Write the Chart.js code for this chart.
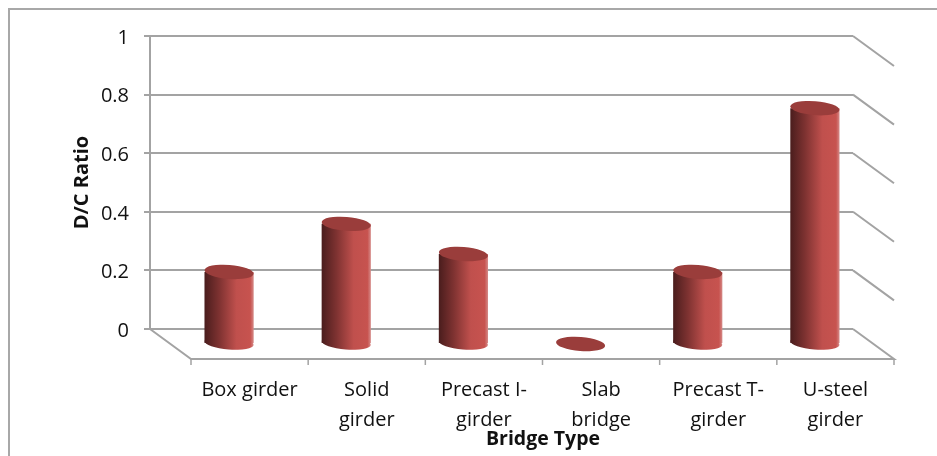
<!DOCTYPE html>
<html>
<head>
<meta charset="utf-8">
<style>
  html, body { margin: 0; padding: 0; background: #fff; overflow: hidden; }
  canvas { display: block; }
</style>
<script src="https://cdn.jsdelivr.net/npm/chart.js@4/dist/chart.umd.min.js"></script>
</head>
<body>
<canvas id="chart" width="937" height="456"></canvas>
<script>
var bridgeTypes = ['Box girder', ['Solid', 'girder'], ['Precast I-', 'girder'], ['Slab', 'bridge'], ['Precast T-', 'girder'], ['U-steel', 'girder']];
var dcRatio = [0.246, 0.41, 0.307, 0, 0.246, 0.805];
var yTicks = [0, 0.2, 0.4, 0.6, 0.8, 1];
var yTitle = 'D/C Ratio';
var xTitle = 'Bridge Type';

var FONT = '"Open Sans", sans-serif';
var GRID = '#a3a3a3';
var DEPTH_X = 41, DEPTH_Y = 30; // fake 3d depth of the floor
var BAR_SHARE = 0.42;

function barGradient(ctx, cx, half) {
    var g = ctx.createLinearGradient(cx - half, 0, cx + half, 0);
    g.addColorStop(0, '#4a1d1d');
    g.addColorStop(0.3, '#7e3231');
    g.addColorStop(0.65, '#c0504d');
    g.addColorStop(0.93, '#c7534f');
    g.addColorStop(1, '#d58a88');
    return g;
}

function ellipse(ctx, x, y, rx, ry, fill) {
    ctx.beginPath();
    ctx.ellipse(x, y, rx, ry, 4.5 * Math.PI / 180, 0, Math.PI * 2);
    ctx.fillStyle = fill;
    ctx.fill();
}

// floor, side lines and the frame round the chart
var walls = {
    id: 'walls',
    beforeDatasetsDraw: function (chart) {
        var ctx = chart.ctx, a = chart.chartArea, y = chart.scales.y, x = chart.scales.x;
        ctx.save();
        ctx.strokeStyle = '#a8a8a8';
        ctx.lineWidth = 2;
        ctx.beginPath();
        ctx.moveTo(9, 456);
        ctx.lineTo(9, 9);
        ctx.lineTo(937, 9);
        ctx.stroke();

        ctx.strokeStyle = GRID;
        ctx.beginPath();
        yTicks.forEach(function (t) {
            if (t === 0) return;
            ctx.moveTo(a.right, y.getPixelForValue(t));
            ctx.lineTo(a.right + DEPTH_X, y.getPixelForValue(t) + DEPTH_Y);
        });
        var fy = y.getPixelForValue(0);
        ctx.moveTo(a.left, fy);
        ctx.lineTo(a.left + DEPTH_X, fy + DEPTH_Y);
        ctx.lineTo(a.right + DEPTH_X, fy + DEPTH_Y);
        ctx.lineTo(a.right, fy);
        ctx.stroke();

        ctx.lineWidth = 1.5;
        ctx.beginPath();
        for (var i = 0; i <= bridgeTypes.length; i++) {
            var tx = a.left + DEPTH_X + i * x.width / bridgeTypes.length;
            ctx.moveTo(tx, fy + DEPTH_Y);
            ctx.lineTo(tx, fy + DEPTH_Y + 6);
        }
        ctx.stroke();
        ctx.restore();

        // bars stand half way into the floor
        ctx.save();
        ctx.translate(DEPTH_X / 2, DEPTH_Y / 2);
        chart.getDatasetMeta(0).data.forEach(function (bar) {
            if (bar.base - bar.y < 1) return;
            ellipse(ctx, bar.x, bar.base, bar.width / 2, 6.5, barGradient(ctx, bar.x, bar.width / 2));
        });
    },
    afterDatasetsDraw: function (chart) {
        var ctx = chart.ctx;
        chart.getDatasetMeta(0).data.forEach(function (bar) {
            ellipse(ctx, bar.x, bar.y, bar.width / 2, 7, '#9a3d3b');
        });
        ctx.restore();
    },
    afterDraw: function (chart) {
        var ctx = chart.ctx;
        ctx.save();
        ctx.font = 'bold 19.5px ' + FONT;
        ctx.fillStyle = '#111';
        ctx.textAlign = 'center';
        ctx.textBaseline = 'middle';
        ctx.fillText(xTitle, 543, 439);
        ctx.restore();
    }
};

var chart = new Chart(document.getElementById('chart').getContext('2d'), {
    type: 'bar',
    data: {
        labels: bridgeTypes,
        datasets: [{
            data: dcRatio,
            clip: false,
            backgroundColor: function (c) {
                var x = c.chart.scales.x;
                if (!x || !c.chart.chartArea) return '#c0504d';
                return barGradient(c.chart.ctx, x.getPixelForValue(c.dataIndex), x.width / bridgeTypes.length * BAR_SHARE / 2);
            }
        }]
    },
    plugins: [walls],
    options: {
        responsive: false,
        animation: false,
        events: [],
        layout: { padding: { left: 0, right: 84, top: 36, bottom: 0 } },
        plugins: { legend: { display: false }, tooltip: { enabled: false } },
        datasets: { bar: { categoryPercentage: 1, barPercentage: BAR_SHARE } },
        scales: {
            x: {
                afterFit: function (s) { s.height = 127; },
                grid: { display: false },
                border: { display: false },
                ticks: {
                    autoSkip: false,
                    maxRotation: 0,
                    minRotation: 0,
                    labelOffset: DEPTH_X,
                    padding: 38,
                    color: '#111',
                    font: { family: FONT, size: 20, lineHeight: 1.5 }
                }
            },
            y: {
                min: 0,
                max: 1,
                afterFit: function (s) { s.width = 150; },
                afterBuildTicks: function (s) { s.ticks = yTicks.map(function (v) { return { value: v }; }); },
                grid: { color: GRID, lineWidth: 2, tickLength: 6 },
                border: { color: GRID, width: 2 },
                ticks: {
                    padding: 15,
                    labelOffset: 2,
                    color: '#111',
                    font: { family: FONT, size: 20 },
                    callback: function (v) { return String(v); }
                },
                title: {
                    display: true,
                    text: yTitle,
                    color: '#111',
                    font: { family: FONT, size: 20, weight: 'bold' },
                    padding: { top: 70, bottom: 0 }
                }
            }
        }
    }
});
</script>
</body>
</html>
